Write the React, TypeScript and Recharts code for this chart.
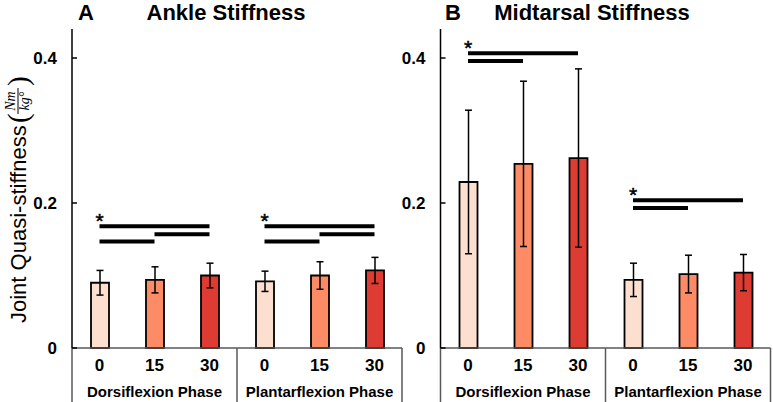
import React from 'react';
import { BarChart, Bar, Cell, XAxis, YAxis, ErrorBar, ReferenceLine, ReferenceDot } from 'recharts';

const categories = ['D0', 'D15', 'D30', 'P0', 'P15', 'P30'];
const doseLabels = ['0', '15', '30', '0', '15', '30'];
const phaseLabels = ['Dorsiflexion Phase', 'Plantarflexion Phase'];

const ankleMeans = [0.09, 0.094, 0.1, 0.092, 0.1, 0.107];
const ankleErrors = [0.017, 0.018, 0.017, 0.014, 0.019, 0.018];
const midtarsalMeans = [0.229, 0.254, 0.262, 0.094, 0.102, 0.104];
const midtarsalErrors = [0.099, 0.114, 0.123, 0.023, 0.026, 0.025];

const yTicks = [0, 0.2, 0.4];
const doseColors = ['#FDDFD0', '#FC8B66', '#DE3B33'];

// significance bars: from, to, height
const ankleSig: [string, string, number][] = [
  ['D0', 'D30', 0.168], ['D15', 'D30', 0.157], ['D0', 'D15', 0.147],
  ['P0', 'P30', 0.168], ['P15', 'P30', 0.157], ['P0', 'P15', 0.147],
];
const ankleStars: [string, number][] = [['D0', 0.168], ['P0', 0.168]];
const midtarsalSig: [string, string, number][] = [
  ['D0', 'D30', 0.4065], ['D0', 'D15', 0.396],
  ['P0', 'P30', 0.2037], ['P0', 'P15', 0.193],
];
const midtarsalStars: [string, number][] = [['D0', 0.4065], ['P0', 0.2037]];

const FONT = '"Liberation Sans", Arial, sans-serif';
const SERIF = '"Liberation Serif", "DejaVu Serif", serif';
const PLOT_W = 330;
const BOX = '#595959';

const buildRows = (means: number[], errs: number[]) =>
  categories.map((key, i) => ({ key, dose: doseLabels[i], mean: means[i], err: errs[i] }));

function StiffTick({ x, y, payload }: any) {
  const v = payload.value as number;
  return (
    <g>
      <line x1={x} x2={x + 5} y1={y} y2={y} stroke="#000" strokeWidth={1.5} />
      <text x={x - 15} y={y} dy="0.36em" textAnchor="end" fontFamily={FONT} fontWeight="bold" fontSize={17} fill="#000">
        {v === 0 ? '0' : v.toFixed(1)}
      </text>
    </g>
  );
}

function PhaseTick({ x, y, payload, index }: any) {
  const half = PLOT_W / categories.length / 2;
  const i = index ?? categories.indexOf(payload.value);
  return (
    <g>
      <text x={x} y={y + 23} textAnchor="middle" fontFamily={FONT} fontWeight="bold" fontSize={17} fill="#000">
        {doseLabels[i]}
      </text>
      {i % 3 === 1 && (
        <text x={x} y={y + 49} textAnchor="middle" fontFamily={FONT} fontWeight="bold" fontSize={15} fill="#000">
          {phaseLabels[Math.floor(i / 3)]}
        </text>
      )}
      {i === 0 && <line x1={x - half} x2={x - half} y1={y} y2={y + 54} stroke={BOX} strokeWidth={1.5} />}
      {i % 3 === 2 && <line x1={x + half} x2={x + half} y1={y} y2={y + 54} stroke={BOX} strokeWidth={1.5} />}
    </g>
  );
}

const Star = ({ cx, cy }: any) => (
  <text x={cx - 4} y={cy + 2} fontFamily={FONT} fontSize={21} fill="#000" stroke="#000" strokeWidth={0.5}>*</text>
);

function StiffnessPanel({ means, errs, sig, stars, width, axisWidth, right }: any) {
  const rows = buildRows(means, errs);
  return (
    <BarChart width={width} height={402} data={rows} margin={{ top: 29, right, bottom: 0, left: 0 }} barCategoryGap={0}>
      <XAxis
        dataKey="key"
        interval={0}
        height={54}
        tickSize={0}
        tickMargin={0}
        tickLine={false}
        axisLine={{ stroke: BOX, strokeWidth: 1.5 }}
        tick={<PhaseTick />}
      />
      <YAxis
        type="number"
        domain={[0, 0.44]}
        ticks={yTicks}
        width={axisWidth}
        tickSize={0}
        tickMargin={0}
        tickLine={false}
        axisLine={{ stroke: '#000', strokeWidth: 1.5 }}
        tick={<StiffTick />}
      />
      <Bar dataKey="mean" barSize={18} stroke="#000" strokeWidth={1.8} isAnimationActive={false}>
        {rows.map((r, i) => (
          <Cell key={r.key} fill={doseColors[i % 3]} />
        ))}
        <ErrorBar dataKey="err" direction="y" width={3.5} stroke="#000" strokeWidth={1.5} isAnimationActive={false} />
      </Bar>
      {sig.map(([a, b, h]: [string, string, number], i: number) => (
        <ReferenceLine key={i} segment={[{ x: a, y: h }, { x: b, y: h }]} stroke="#000" strokeWidth={4} />
      ))}
      {stars.map(([a, h]: [string, number], i: number) => (
        <ReferenceDot key={i} x={a} y={h} r={0} shape={<Star />} />
      ))}
    </BarChart>
  );
}

export default function App() {
  return (
    <div style={{ position: 'absolute', left: 0, top: 0, width: 773, height: 402, background: '#fff', overflow: 'hidden' }}>
      <div style={{ position: 'absolute', left: 0, top: 0 }}>
        <StiffnessPanel means={ankleMeans} errs={ankleErrors} sig={ankleSig} stars={ankleStars} width={404} axisWidth={72} right={2} />
      </div>
      <div style={{ position: 'absolute', left: 370, top: 0 }}>
        <StiffnessPanel means={midtarsalMeans} errs={midtarsalErrors} sig={midtarsalSig} stars={midtarsalStars} width={403} axisWidth={70.5} right={2.5} />
      </div>
      <svg width={773} height={402} style={{ position: 'absolute', left: 0, top: 0, pointerEvents: 'none' }}>
        <g fontFamily={FONT} fontWeight="bold" fontSize={22} fill="#000">
          <text x={86} y={20} textAnchor="middle">A</text>
          <text x={226} y={20} textAnchor="middle">Ankle Stiffness</text>
          <text x={453} y={20} textAnchor="middle">B</text>
          <text x={592} y={20} textAnchor="middle">Midtarsal Stiffness</text>
        </g>
        <g transform="translate(26,323) rotate(-90)" fill="#000">
          <text x={0} y={0} fontFamily={FONT} fontSize={22}>Joint Quasi-stiffness</text>
          <text x={200} y={2} fontFamily={SERIF} fontSize={29}>(</text>
          <text x={222} y={-11} textAnchor="middle" fontFamily={SERIF} fontStyle="italic" fontSize={14}>Nm</text>
          <line x1={209} x2={235} y1={-8} y2={-8} stroke="#000" strokeWidth={1} />
          <text x={222} y={3} textAnchor="middle" fontFamily={SERIF} fontStyle="italic" fontSize={14}>kg°</text>
          <text x={237} y={2} fontFamily={SERIF} fontSize={29}>)</text>
        </g>
      </svg>
    </div>
  );
}
